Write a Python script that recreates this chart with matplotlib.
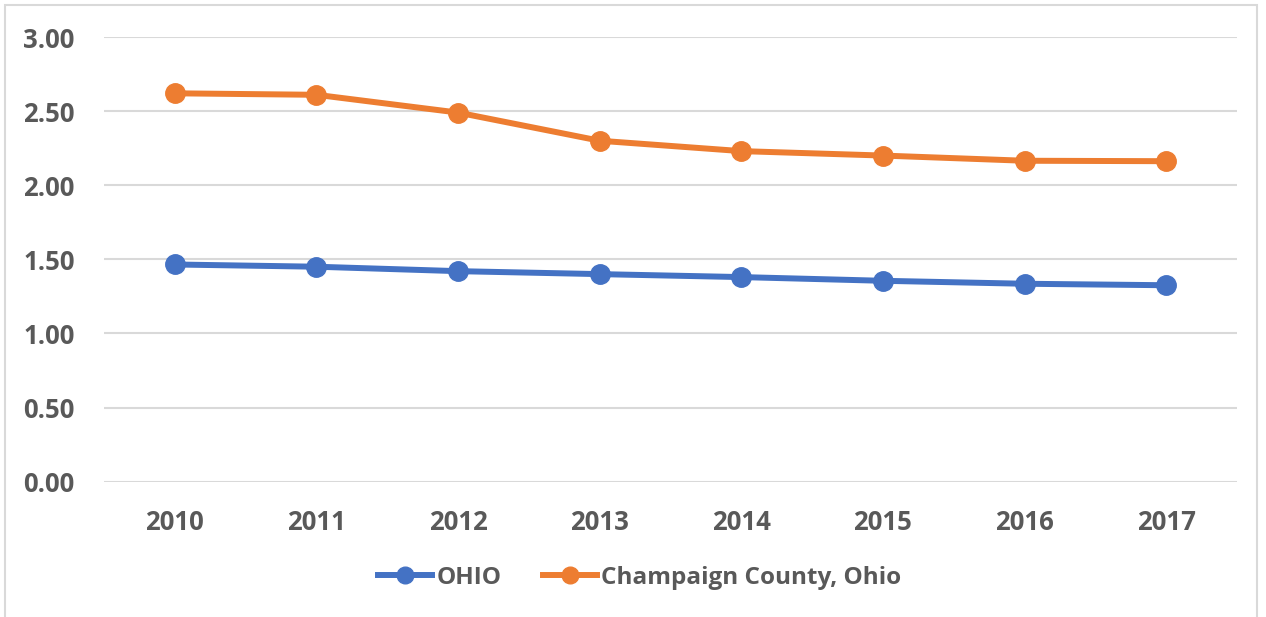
import matplotlib
matplotlib.use("Agg")
import matplotlib.pyplot as plt
from matplotlib import font_manager as fm
from matplotlib.patches import Rectangle
from matplotlib.lines import Line2D

years = ["2010", "2011", "2012", "2013", "2014", "2015", "2016", "2017"]
ohio = [1.465, 1.45, 1.42, 1.40, 1.38, 1.355, 1.335, 1.325]
champaign = [2.62, 2.61, 2.49, 2.30, 2.23, 2.20, 2.165, 2.162]
yticks = [0.0, 0.5, 1.0, 1.5, 2.0, 2.5, 3.0]

def pick(cands):
    for c in cands:
        try:
            fm.findfont(fm.FontProperties(family=c), fallback_to_default=False)
            return c
        except Exception:
            pass
    return "DejaVu Sans"

font = pick(["Open Sans", "Liberation Sans"])
plt.rcParams['font.family'] = [font, 'DejaVu Sans']

W, H = 1266, 617
fig = plt.figure(figsize=(W / 100, H / 100), dpi=100)
fig.patch.set_facecolor("white")

# chart border
fig.patches.append(Rectangle((5 / W, -0.02), (1257 - 5) / W, 1 - 5 / H + 0.02,
                             transform=fig.transFigure, fill=False,
                             edgecolor="#d9d9d9", linewidth=1.5))

left, right = 104 / W, 1237 / W
bottom, top = 1 - 481.6 / H, 1 - 37 / H
ax = fig.add_axes([left, bottom, right - left, top - bottom])

x = list(range(len(years)))
blue = "#4472c4"
orange = "#ed7d31"
ax.plot(x, ohio, color=blue, lw=4.3, marker="o", ms=14, zorder=3, solid_capstyle="round")
ax.plot(x, champaign, color=orange, lw=4.3, marker="o", ms=14, zorder=3, solid_capstyle="round")

ax.set_xlim(-0.5, len(years) - 0.5)
ax.set_ylim(0, 3)
ax.set_yticks(yticks)
ax.set_yticklabels([f"{v:.2f}" for v in yticks])
ax.set_xticks(x)
ax.set_xticklabels(years)
ax.yaxis.grid(True, color="#d9d9d9", lw=1.5)
ax.set_axisbelow(True)
for s in ax.spines.values():
    s.set_visible(False)
ax.tick_params(axis="both", length=0, labelsize=18.5, labelcolor="#595959")
ax.tick_params(axis="y", pad=21)
ax.tick_params(axis="x", pad=20)
for lab in ax.get_xticklabels() + ax.get_yticklabels():
    lab.set_fontweight("bold")

handles = [Line2D([], [], color=blue, lw=4.3, marker="o", ms=12),
           Line2D([], [], color=orange, lw=4.3, marker="o", ms=12)]
leg = fig.legend(handles, ["OHIO", "Champaign County, Ohio"], loc="center",
                 bbox_to_anchor=(640 / W, 1 - 578 / H), ncol=2, frameon=False,
                 handlelength=2.2, handletextpad=0.2, columnspacing=1.7,
                 prop={"size": 17.5, "weight": "bold"})
for t in leg.get_texts():
    t.set_color("#595959")

fig.savefig("out.png", dpi=100, facecolor="white")
